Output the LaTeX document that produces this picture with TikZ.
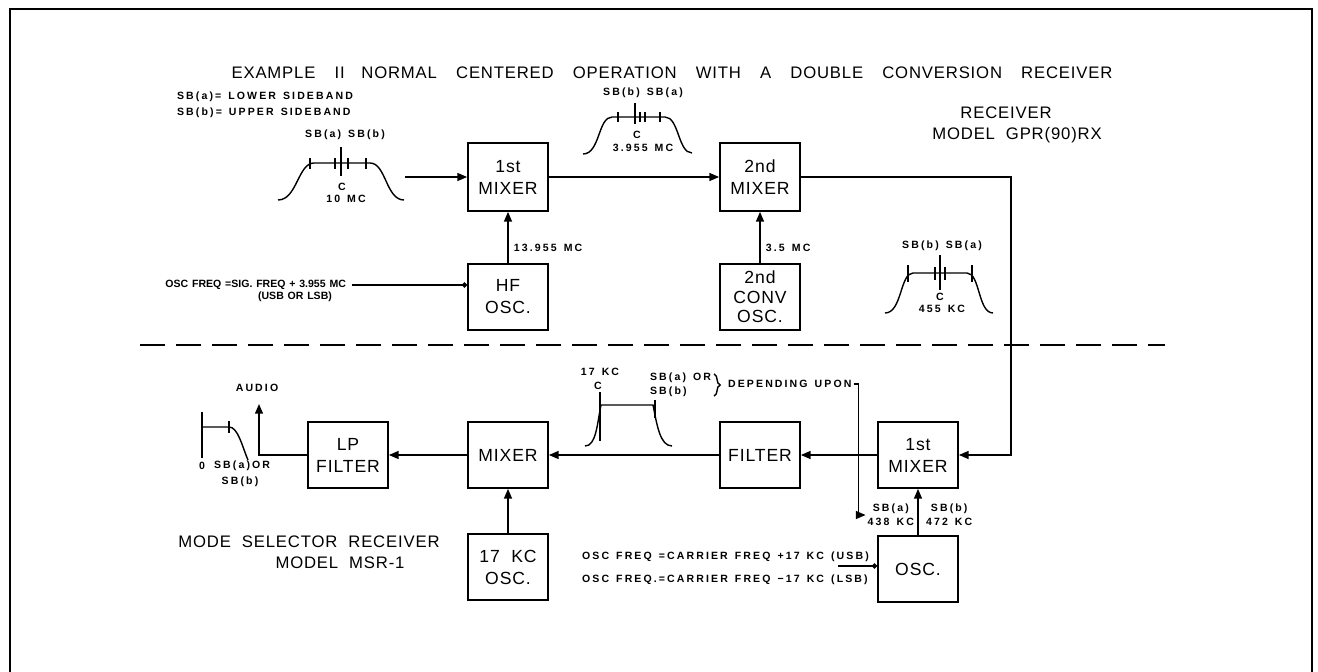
\documentclass[tikz,border=0pt]{standalone}
\usepackage{fontspec}
\setmainfont{Liberation Sans}[LetterSpace=5,WordSpace=2]
\newfontfamily\titlefont{Liberation Sans}[LetterSpace=5,WordSpace=3.5]
\newfontfamily\lblfont{Liberation Sans}[LetterSpace=20,WordSpace=1.4]
\newfontfamily\tightfont{Liberation Sans}[LetterSpace=0,WordSpace=1.3]
\usetikzlibrary{arrows.meta,decorations.pathreplacing}

\tikzset{
  block/.style={draw, line width=1pt, minimum width=1.6cm, minimum height=1.32cm,
    align=center, font=\fontsize{10}{12.5}\selectfont},
  lbl/.style={font=\lblfont\bfseries\fontsize{6}{8}\selectfont, inner sep=1pt},
  lbltight/.style={font=\tightfont\bfseries\fontsize{6}{8}\selectfont, inner sep=1pt},
  big/.style={font=\fontsize{9.5}{12}\selectfont, inner sep=1pt},
  arr/.style={line width=0.8pt, -{Triangle[length=5.5pt,width=4.5pt]}},
  dotarr/.style={line width=0.8pt, -{Circle[length=3pt]}},
  spec/.style={line width=0.8pt},
}

\begin{document}
\begin{tikzpicture}[x=0.02cm, y=-0.02cm]
  \useasboundingbox (0,0) rectangle (1318,672);
  % Frame
  \draw[line width=1.6pt] (10,672) -- (10,9) -- (1312,9) -- (1312,672);
  % Title and legend
  \node[font=\titlefont\fontsize{9.5}{11}\selectfont] (title) at (672,73)
    {EXAMPLE\ II\quad NORMAL CENTERED OPERATION WITH A DOUBLE CONVERSION RECEIVER};
  \node[lbl, anchor=west] (lega) at (175,97) {SB(a)= LOWER\ SIDEBAND};
  \node[lbl, anchor=west] (legb) at (175,113) {SB(b)= UPPER\ SIDEBAND};
  \node[big] (rxname) at (1006,113) {RECEIVER};
  \node[big] (rxmodel) at (1017,135) {MODEL GPR(90)RX};
  \node[big] (msname) at (309,542) {MODE SELECTOR RECEIVER};
  \node[big] (msmodel) at (340,563) {MODEL MSR-1};

  % Spectrum at the input (10 MC)
  \draw[spec] (278,200) .. controls (297,200) and (298,163) .. (314,163) -- (370,163)
    .. controls (386,163) and (386,200) .. (404,200);
  \foreach \x in {310,335,348,366} \draw[spec] (\x,158) -- (\x,169);
  \draw[spec] (341,147) -- (341,176);
  \node[lbl] at (345,135) {SB(a)\ SB(b)};
  \node[lbl] at (342,187) {C};
  \node[lbl] at (346,199) {10 MC};

  % Spectrum after the 1st mixer (3.955 MC)
  \draw[spec] (583,154) .. controls (600,154) and (598,117) .. (612,117) -- (665,117)
    .. controls (679,117) and (678,153) .. (692,153);
  \foreach \x in {618,640,645,660} \draw[spec] (\x,112) -- (\x,122);
  \draw[spec] (635,103) -- (635,124);
  \node[lbl] at (643,93) {SB(b)\ SB(a)};
  \node[lbl] at (637,135) {C};
  \node[lbl] at (643,148) {3.955 MC};

  % Spectrum after the 2nd mixer (455 KC)
  \draw[spec] (885,313) .. controls (902,313) and (900,273) .. (913,273) -- (967,273)
    .. controls (980,273) and (978,313) .. (993,313);
  \foreach \x in {908,972} \draw[spec] (\x,265) -- (\x,282);
  \foreach \x in {935,945} \draw[spec] (\x,267) -- (\x,280);
  \draw[spec] (940,255) -- (940,290);
  \node[lbl] at (942,246) {SB(b) SB(a)};
  \node[lbl] at (940,297) {C};
  \node[lbl] at (942,309) {455 KC};

  % Receiver blocks
  \node[block, minimum height=1.36cm] (mixa) at (508,177) {1st\\MIXER};
  \node[block, minimum height=1.36cm] (mixb) at (760,177) {2nd\\MIXER};
  \node[block] (hfosc) at (508,297) {HF\\OSC.};
  \node[block, font=\fontsize{10}{11}\selectfont] (convosc) at (760,297) {2nd\\CONV\\OSC.};

  \coordinate (rfin) at (405,177);
  \draw[arr] (rfin) -- (mixa);
  \draw[arr] (mixa) -- (mixb);
  \draw[arr] (hfosc) -- (mixa) node[lbl, pos=0.3, anchor=west, xshift=2pt] {13.955 MC};
  \draw[arr] (convosc) -- (mixb) node[lbl, pos=0.3, anchor=west, xshift=2pt] {3.5 MC};

  \node[lbltight, anchor=east] (sigfreq) at (348,285) {OSC FREQ =SIG. FREQ + 3.955 MC};
  \node[lbltight] (usblsb) at (295,297) {(USB OR LSB)};
  \draw[dotarr] ([xshift=2pt]sigfreq.east) -- (sigfreq.east -| hfosc.west);

  % Boundary between the two units
  \draw[line width=0.8pt, dash pattern=on 0.5cm off 0.22cm] (140,345) -- (1165,345);

  % Mode selector blocks
  \node[block] (mixc) at (918,455) {1st\\MIXER};
  \node[block] (osc) at (918,569) {OSC.};
  \node[block] (filt) at (760,455) {FILTER};
  \node[block] (mixd) at (508,455) {MIXER};
  \node[block] (lpf) at (348,455) {LP\\FILTER};
  \node[block] (osc17) at (508,567) {17 KC\\OSC.};

  \draw[arr] (mixb.east) -- ++(210,0) |- (mixc.east);
  \draw[arr] (mixc) -- (filt);
  \draw[arr] (filt) -- (mixd);
  \draw[arr] (mixd) -- (lpf);
  \draw[arr] (osc17) -- (mixd);
  \draw[arr] (osc) -- (mixc);

  \node[lbl] (audio) at (257,388) {AUDIO};
  \coordinate (audioout) at (259,404);
  \draw[arr] (lpf.west) -| (audioout);

  \node[lbl, align=center, anchor=east] (sbalow) at (916,515) {SB(a)\\438 KC};
  \node[lbl, align=center, anchor=west] (sbbup) at (924,515) {SB(b)\\472 KC};

  \node[lbl, anchor=west] (carrusb) at (580,557) {OSC FREQ =CARRIER FREQ +17 KC (USB)};
  \node[lbl, anchor=west] (carrlsb) at (580,580) {OSC FREQ.=CARRIER FREQ −17 KC (LSB)};
  \coordinate (carrin) at (838,566);
  \draw[dotarr] (carrin) -- (carrin -| osc.west);

  % Spectrum after the filter (17 KC)
  \draw[spec] (585,446) .. controls (596,446) and (597,425) .. (601,405) -- (653,405)
    .. controls (657,425) and (660,446) .. (672,446);
  \draw[spec] (600,392) -- (600,441);
  \draw[spec] (655,400) -- (655,418);
  \node[lbl] at (600,372) {17 KC};
  \node[lbl] at (598,386) {C};
  \node[lbl, anchor=west, align=left] (sbor) at (648,385) {SB(a) OR\\SB(b)};
  \draw[spec, decorate, decoration={brace, amplitude=3.5pt}] (714,374) -- (714,396);
  \node[lbl, anchor=west] (dep) at (726,384) {DEPENDING UPON};
  \draw[arr] (dep.east) -- ++(5,0) |- (sbalow.west);

  % Audio spectrum
  \draw[spec] (202,412) -- (202,458);
  \draw[spec] (202,427) -- (229,427) .. controls (238,427) and (242,446) .. (248,460);
  \draw[spec] (229,421) -- (229,433);
  \node[lbl] at (202,466) {0};
  \node[lbl, anchor=west] at (212,466) {SB(a)OR};
  \node[lbl] at (240,482) {SB(b)};
\end{tikzpicture}
\end{document}
